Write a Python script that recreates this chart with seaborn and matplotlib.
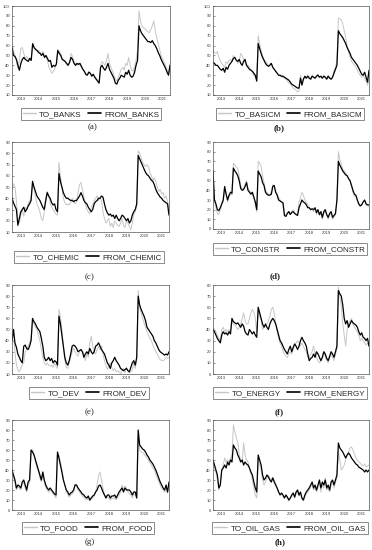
import numpy as np
import pandas as pd
import matplotlib
matplotlib.use('Agg')
import matplotlib.pyplot as plt
import seaborn as sns

# monthly observations, Jan 2013 - Dec 2021
months = pd.date_range('2013-01-01', '2021-12-01', freq='MS')
year_labels = ['2013', '2014', '2015', '2016', '2017', '2018', '2019', '2020', '2021']

# (a) banks
to_banks = [62, 55, 50, 44, 37, 45, 57, 58, 52, 47, 49, 46,
            45, 47, 61, 57, 57, 54, 55, 53, 52, 54, 50, 48,
            45, 38, 35, 32, 34, 37, 40, 56, 54, 52, 47, 46,
            43, 41, 40, 44, 52, 49, 44, 42, 40, 42, 40, 38,
            36, 33, 30, 31, 34, 32, 30, 30, 29, 27, 25, 23,
            40, 44, 42, 40, 45, 52, 42, 38, 34, 30, 26, 24,
            28, 32, 36, 38, 35, 42, 40, 48, 40, 35, 34, 38,
            45, 55, 95, 85, 80, 78, 77, 75, 74, 73, 76, 80,
            85, 75, 68, 62, 56, 50, 46, 43, 40, 36, 32, 42]
from_banks = [58, 50, 49, 46, 40, 35, 42, 46, 48, 46, 45, 44,
              47, 45, 62, 58, 56, 55, 53, 52, 50, 52, 48, 50,
              47, 44, 45, 38, 40, 39, 41, 55, 52, 50, 46, 45,
              44, 42, 40, 43, 48, 46, 42, 40, 42, 41, 42, 39,
              36, 34, 31, 30, 33, 32, 29, 31, 28, 26, 24, 22,
              38, 40, 37, 35, 38, 42, 36, 33, 30, 27, 22, 21,
              25, 27, 30, 29, 28, 33, 31, 35, 30, 28, 29, 33,
              40, 45, 80, 75, 72, 70, 68, 66, 64, 64, 63, 65,
              62, 60, 57, 53, 50, 46, 43, 40, 37, 33, 30, 40]

# (b) basic materials
to_basicm = [55, 53, 52, 54, 48, 45, 42, 40, 38, 44, 42, 45,
             46, 44, 50, 47, 45, 42, 44, 52, 50, 46, 43, 41,
             40, 38, 36, 33, 30, 28, 26, 70, 62, 55, 50, 46,
             44, 42, 40, 41, 42, 38, 36, 34, 32, 30, 29, 28,
             28, 27, 26, 24, 22, 21, 19, 17, 16, 15, 13, 14,
             30, 22, 25, 28, 27, 30, 28, 26, 30, 28, 27, 30,
             31, 28, 29, 27, 30, 28, 26, 30, 27, 26, 28, 35,
             38, 45, 88, 87, 86, 82, 75, 68, 60, 54, 48, 44,
             42, 40, 38, 35, 32, 30, 28, 30, 27, 24, 20, 25]
from_basicm = [43, 42, 40, 40, 38, 36, 35, 37, 33, 38, 36, 40,
               42, 44, 47, 48, 45, 44, 46, 42, 40, 44, 46, 40,
               38, 36, 35, 34, 32, 30, 24, 62, 57, 52, 48, 45,
               42, 40, 39, 40, 42, 38, 36, 34, 32, 30, 30, 29,
               29, 28, 27, 26, 25, 23, 21, 20, 19, 18, 17, 17,
               27, 20, 26, 29, 27, 29, 27, 26, 29, 28, 27, 29,
               30, 28, 29, 27, 29, 28, 26, 29, 27, 26, 28, 32,
               36, 40, 75, 72, 70, 68, 65, 62, 58, 55, 52, 48,
               46, 44, 42, 40, 37, 34, 31, 30, 33, 28, 23, 35]

# (c) chemicals
to_chemic = [48, 53, 50, 38, 20, 18, 25, 30, 24, 32, 30, 35,
             38, 40, 52, 48, 42, 35, 32, 28, 22, 20, 28, 40,
             46, 42, 36, 32, 30, 28, 26, 25, 72, 60, 50, 40,
             36, 34, 35, 34, 36, 40, 38, 35, 37, 45, 52, 54,
             48, 42, 35, 30, 28, 26, 32, 35, 38, 40, 42, 38,
             40, 38, 28, 22, 18, 20, 22, 15, 18, 14, 20, 18,
             16, 15, 18, 22, 16, 14, 20, 18, 15, 12, 18, 26,
             28, 33, 82, 80, 76, 72, 70, 68, 70, 68, 63, 60,
             56, 58, 55, 50, 46, 48, 44, 45, 40, 42, 37, 30]
from_chemic = [40, 36, 33, 30, 16, 22, 28, 30, 32, 28, 30, 33,
               35, 38, 55, 50, 46, 42, 40, 38, 35, 32, 30, 38,
               45, 42, 40, 36, 34, 35, 30, 28, 62, 55, 50, 45,
               42, 40, 40, 39, 38, 38, 37, 38, 38, 40, 42, 45,
               42, 38, 36, 35, 32, 30, 28, 30, 35, 37, 38, 40,
               40, 42, 41, 35, 30, 27, 25, 26, 24, 25, 22, 25,
               22, 20, 22, 25, 24, 22, 20, 22, 18, 20, 25, 28,
               30, 35, 78, 75, 72, 69, 66, 63, 61, 60, 58, 56,
               55, 52, 48, 45, 43, 41, 40, 38, 37, 36, 35, 25]

# (d) construction
to_constr = [62, 28, 22, 16, 15, 20, 25, 28, 40, 38, 28, 33,
             36, 35, 68, 66, 64, 62, 55, 45, 42, 42, 46, 50,
             42, 40, 38, 36, 32, 26, 18, 70, 68, 65, 55, 48,
             40, 38, 36, 36, 38, 46, 44, 38, 36, 33, 30, 28,
             26, 16, 14, 17, 18, 16, 18, 20, 17, 15, 16, 28,
             32, 38, 35, 30, 28, 25, 22, 20, 20, 18, 21, 15,
             18, 14, 16, 10, 16, 18, 14, 10, 15, 16, 10, 12,
             15, 28, 80, 72, 67, 62, 60, 58, 56, 53, 50, 45,
             38, 34, 33, 29, 25, 23, 25, 28, 29, 25, 24, 23]
from_constr = [60, 30, 26, 20, 19, 22, 26, 30, 44, 36, 30, 35,
               38, 37, 63, 60, 58, 55, 50, 42, 40, 41, 44, 48,
               40, 38, 36, 38, 33, 28, 20, 60, 57, 54, 48, 45,
               38, 36, 35, 35, 36, 44, 45, 38, 35, 30, 29, 28,
               27, 14, 13, 16, 18, 15, 17, 18, 16, 15, 14, 22,
               26, 30, 28, 27, 25, 22, 22, 20, 21, 20, 22, 17,
               20, 15, 18, 12, 18, 20, 15, 12, 16, 18, 12, 14,
               16, 30, 70, 66, 63, 60, 58, 56, 55, 52, 50, 45,
               40, 36, 35, 30, 26, 24, 25, 28, 30, 26, 25, 25]

# (e) developed
to_dev = [40, 48, 30, 18, 14, 12, 15, 18, 20, 30, 32, 35,
          38, 42, 58, 55, 52, 50, 45, 40, 32, 25, 20, 18,
          20, 18, 17, 18, 16, 20, 17, 15, 68, 62, 50, 35,
          22, 16, 15, 20, 25, 30, 33, 30, 28, 26, 30, 32,
          30, 28, 22, 28, 25, 38, 44, 35, 30, 28, 32, 35,
          32, 35, 28, 22, 18, 14, 18, 20, 16, 13, 15, 12,
          13, 12, 10, 14, 15, 11, 16, 13, 11, 12, 14, 20,
          15, 22, 85, 70, 65, 60, 56, 52, 48, 45, 42, 40,
          36, 33, 30, 28, 25, 23, 22, 22, 23, 25, 24, 25]
from_dev = [40, 50, 38, 34, 28, 25, 22, 20, 35, 36, 33, 32,
            35, 40, 60, 57, 55, 52, 50, 48, 42, 35, 25, 22,
            23, 25, 22, 24, 20, 22, 21, 18, 62, 55, 45, 35,
            25, 20, 18, 22, 28, 35, 36, 35, 33, 30, 31, 32,
            30, 25, 28, 30, 28, 33, 30, 28, 30, 35, 36, 38,
            35, 32, 30, 28, 24, 20, 18, 15, 20, 22, 25, 22,
            20, 18, 15, 14, 13, 14, 15, 13, 12, 16, 20, 22,
            18, 25, 80, 72, 68, 65, 62, 58, 52, 50, 48, 46,
            44, 40, 38, 35, 32, 30, 29, 28, 27, 28, 27, 30]

# (f) energy
to_energy = [42, 40, 38, 35, 32, 30, 40, 42, 38, 40, 38, 40,
             38, 48, 45, 44, 42, 40, 42, 45, 50, 55, 48, 45,
             45, 50, 55, 58, 56, 50, 38, 58, 52, 48, 40, 42,
             43, 45, 48, 52, 58, 60, 55, 45, 38, 32, 28, 25,
             20, 18, 16, 15, 18, 20, 18, 22, 25, 28, 30, 28,
             25, 28, 25, 22, 20, 15, 15, 18, 20, 25, 18, 15,
             12, 10, 12, 15, 20, 15, 12, 10, 14, 18, 15, 12,
             18, 22, 78, 70, 60, 45, 35, 25, 40, 45, 48, 50,
             45, 42, 40, 38, 35, 30, 32, 30, 28, 26, 28, 25]
from_energy = [40, 38, 35, 32, 30, 28, 35, 38, 36, 37, 35, 38,
               36, 50, 47, 46, 45, 46, 44, 42, 45, 43, 38, 36,
               35, 40, 38, 36, 38, 35, 33, 60, 55, 50, 45, 42,
               45, 42, 40, 45, 48, 50, 48, 45, 40, 35, 30, 28,
               25, 22, 20, 18, 22, 25, 20, 24, 27, 25, 22, 25,
               30, 33, 30, 28, 25, 18, 12, 14, 15, 18, 15, 20,
               18, 15, 12, 15, 20, 18, 14, 12, 16, 20, 18, 15,
               20, 25, 75, 72, 70, 62, 50, 45, 48, 42, 45, 48,
               46, 45, 44, 42, 38, 35, 37, 33, 32, 30, 32, 25]

# (g) food
to_food = [38, 33, 28, 20, 23, 22, 20, 26, 28, 22, 18, 25,
           28, 58, 60, 56, 48, 42, 38, 32, 28, 35, 28, 22,
           20, 18, 20, 18, 16, 14, 12, 56, 55, 48, 40, 32,
           25, 18, 16, 13, 15, 16, 18, 26, 24, 20, 18, 16,
           14, 13, 11, 10, 12, 9, 11, 12, 14, 18, 25, 35,
           38, 30, 22, 16, 12, 13, 12, 10, 12, 11, 13, 10,
           13, 15, 18, 25, 20, 24, 22, 18, 16, 15, 12, 16,
           15, 12, 75, 60, 58, 57, 56, 54, 52, 50, 47, 45,
           42, 40, 36, 32, 28, 25, 22, 20, 18, 22, 17, 22]
from_food = [40, 35, 30, 22, 25, 24, 22, 28, 30, 25, 20, 28,
             30, 60, 58, 55, 50, 45, 40, 35, 30, 38, 30, 25,
             22, 20, 22, 20, 18, 16, 15, 58, 52, 45, 38, 30,
             25, 20, 18, 15, 17, 18, 20, 25, 25, 22, 20, 18,
             16, 15, 13, 12, 14, 10, 12, 14, 15, 18, 20, 24,
             25, 22, 18, 15, 12, 15, 15, 12, 14, 14, 15, 12,
             15, 18, 20, 22, 18, 22, 20, 20, 20, 18, 15, 18,
             18, 12, 80, 65, 63, 61, 60, 58, 55, 53, 50, 48,
             46, 43, 40, 36, 32, 28, 25, 22, 20, 25, 18, 28]

# (h) oil & gas
to_oil_gas = [50, 44, 38, 30, 20, 25, 40, 45, 52, 48, 50, 48,
              52, 55, 85, 78, 72, 68, 55, 50, 48, 67, 55, 50,
              48, 42, 36, 30, 22, 15, 12, 52, 45, 40, 30, 25,
              28, 32, 35, 32, 30, 33, 30, 26, 22, 18, 16, 16,
              14, 12, 14, 12, 9, 11, 14, 16, 12, 16, 18, 14,
              16, 11, 9, 13, 16, 18, 20, 23, 26, 20, 22, 18,
              22, 28, 18, 25, 22, 32, 20, 22, 18, 25, 28, 22,
              28, 32, 60, 50, 40, 42, 45, 50, 55, 58, 62, 63,
              60, 56, 52, 50, 48, 47, 45, 44, 46, 43, 44, 45]
from_oil_gas = [50, 45, 40, 35, 22, 25, 40, 42, 45, 42, 48, 45,
                50, 48, 65, 62, 60, 55, 52, 48, 50, 45, 48, 46,
                45, 42, 38, 35, 28, 22, 18, 55, 50, 45, 35, 30,
                32, 35, 33, 30, 28, 32, 28, 25, 22, 18, 15, 17,
                15, 12, 15, 13, 10, 12, 15, 17, 13, 18, 20, 15,
                18, 12, 10, 15, 18, 20, 22, 25, 28, 22, 25, 20,
                25, 30, 22, 28, 25, 30, 22, 25, 20, 28, 30, 25,
                30, 35, 67, 62, 60, 58, 55, 52, 55, 57, 55, 52,
                50, 48, 46, 45, 43, 42, 41, 40, 38, 40, 38, 40]

#name, to, from, y range, axes box in px (left, top, right, bottom), legend centre px, label
panels = [
    ('BANKS', to_banks, from_banks, (10, 100), (12, 6, 170, 95), (91, 114), '(a)', (93, 127), 'normal'),
    ('BASICM', to_basicm, from_basicm, (10, 100), (213, 6, 369, 95), (290, 114), '(b)', (279, 128), 'bold'),
    ('CHEMIC', to_chemic, from_chemic, (10, 90), (12, 142, 169, 232), (89, 257), '(c)', (90, 277), 'normal'),
    ('CONSTR', to_constr, from_constr, (0, 90), (213, 142, 369, 229), (290, 249), '(d)', (275, 276), 'bold'),
    ('DEV', to_dev, from_dev, (10, 90), (12, 285, 169, 374), (89, 393), '(e)', (90, 412), 'normal'),
    ('ENERGY', to_energy, from_energy, (0, 80), (213, 285, 369, 374), (290, 393), '(f)', (279, 412), 'bold'),
    ('FOOD', to_food, from_food, (0, 90), (12, 420, 169, 510), (88, 528), '(g)', (90, 542), 'normal'),
    ('OIL_GAS', to_oil_gas, from_oil_gas, (0, 90), (213, 420, 369, 510), (290, 528), '(h)', (280, 542), 'bold'),
]

sns.set_theme(style='white')
plt.rcParams['font.family'] = ['Liberation Sans', 'DejaVu Sans']

W, H = 372, 550
fig = plt.figure(figsize=(W / 100, H / 100), dpi=100)
fig.patch.set_facecolor('white')

t = months.year + (months.month - 1) / 12.0

for name, to_vals, from_vals, (lo, hi), (l, tp, r, bt), (lx, ly), lab, (tx, ty), fw in panels:
    ax = fig.add_axes([l / W, 1 - bt / H, (r - l) / W, (bt - tp) / H])
    df = pd.DataFrame({'t': t, 'to': to_vals, 'from': from_vals})
    sns.lineplot(data=df, x='t', y='to', ax=ax, color='#c6c6c6', linewidth=0.7, label='TO_' + name)
    sns.lineplot(data=df, x='t', y='from', ax=ax, color='black', linewidth=0.9, label='FROM_' + name)

    ax.set_xlim(t[0], t[-1])
    ax.set_ylim(lo, hi)
    ax.set_yticks(np.arange(lo, hi + 1, 10))
    ax.set_xticks(np.arange(2014, 2022))
    ax.set_xticklabels([])
    ax.set_xticks(np.arange(2013, 2022) + 0.5, minor=True)
    ax.set_xticklabels(year_labels, minor=True)
    ax.tick_params(axis='x', which='major', direction='in', length=1.5, width=0.4, color='#444444')
    ax.tick_params(axis='x', which='minor', length=0, labelsize=3, pad=1.5, labelcolor='#333333')
    ax.tick_params(axis='y', direction='in', length=1.5, width=0.4, labelsize=3, pad=1.5,
                   left=True, labelcolor='#333333', color='#444444')
    ax.set_xlabel('')
    ax.set_ylabel('')
    for sp in ax.spines.values():
        sp.set_linewidth(0.5)
        sp.set_color('#555555')

    leg = ax.legend(loc='center', bbox_to_anchor=(lx / W, 1 - ly / H), bbox_transform=fig.transFigure,
                    ncol=2, fontsize=5.8, frameon=True, fancybox=False, borderpad=0.25,
                    handlelength=1.6, handletextpad=0.4, columnspacing=0.8, borderaxespad=0)
    leg.get_frame().set_edgecolor('#333333')
    leg.get_frame().set_linewidth(0.5)
    for line in leg.get_lines():
        line.set_linewidth(line.get_linewidth() + 0.3)

    fig.text(tx / W, 1 - ty / H, lab, ha='center', va='center', fontsize=6.5,
             family='Liberation Serif', fontweight=fw)

plt.savefig('out.png', dpi=100, facecolor='white')
